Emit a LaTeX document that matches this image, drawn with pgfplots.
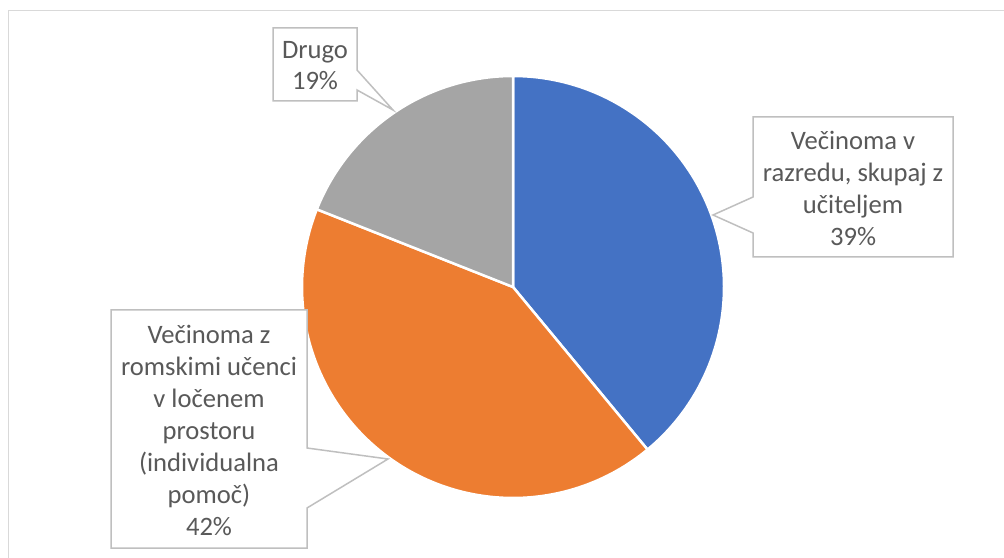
\documentclass[border=0pt]{standalone}
\usepackage{pgfplots}
\pgfplotsset{compat=1.18}
\usepackage{fontspec}
\setmainfont{Carlito}
\definecolor{pieblue}{HTML}{4472C4}
\definecolor{pieorange}{HTML}{ED7D31}
\definecolor{piegray}{HTML}{A5A5A5}
\definecolor{txt}{HTML}{595959}
\definecolor{boxline}{HTML}{BFBFBF}
\definecolor{frame}{HTML}{D9D9D9}
% slice shares (percent)
\def\pA{39}% Večinoma v razredu
\def\pB{42}% Večinoma z romskimi učenci
\def\pC{19}% Drugo
\pgfmathsetmacro{\aA}{90}
\pgfmathsetmacro{\aB}{90-3.6*\pA}
\pgfmathsetmacro{\aC}{90-3.6*(\pA+\pB)}
\pgfmathsetmacro{\aD}{90-3.6*(\pA+\pB+\pC)}
\begin{document}
\begin{tikzpicture}
\useasboundingbox (0,0) rectangle (502pt,278.5pt);
\begin{axis}[
  at={(0,0)}, anchor=origin,
  x=0.5pt, y=0.5pt,
  xmin=-513, xmax=491, ymin=-270, ymax=287,
  hide axis, clip=false,
  anchor=south west,
]
% outer frame
\draw[frame, line width=0.75pt] (axis cs:-504.5,-275) -- (axis cs:-504.5,276.5) -- (axis cs:495,276.5);
% pie slices
\addplot[fill=pieblue, draw=white, line width=1.25pt, line join=round, data cs=polar, domain=\aA:\aB, samples=120] {211} -- (axis cs:0,0) -- cycle;
\addplot[fill=pieorange, draw=white, line width=1.25pt, line join=round, data cs=polar, domain=\aB:\aC, samples=120] {211} -- (axis cs:0,0) -- cycle;
\addplot[fill=piegray, draw=white, line width=1.25pt, line join=round, data cs=polar, domain=\aC:\aD, samples=80] {211} -- (axis cs:0,0) -- cycle;
% callouts
\draw[boxline, fill=white, line width=0.75pt]
  (axis cs:-240,259) -- (axis cs:-156,259) -- (axis cs:-156,217) -- (axis cs:-120,177)
  -- (axis cs:-156,197) -- (axis cs:-156,186) -- (axis cs:-240,186) -- cycle;
\node[text=txt, align=center, font=\fontsize{13.3}{15.5}\selectfont] at (axis cs:-198,221) {Drugo\\19\%};
\draw[boxline, fill=white, line width=0.75pt]
  (axis cs:240,170) -- (axis cs:440,170) -- (axis cs:440,30) -- (axis cs:240,30)
  -- (axis cs:240,54) -- (axis cs:200,72) -- (axis cs:240,90) -- cycle;
\node[text=txt, align=center, font=\fontsize{13.3}{16}\selectfont] at (axis cs:340,99) {Večinoma v\\razredu, skupaj z\\učiteljem\\39\%};
\draw[boxline, fill=white, line width=0.75pt]
  (axis cs:-402,-23) -- (axis cs:-206,-23) -- (axis cs:-206,-161) -- (axis cs:-125,-172)
  -- (axis cs:-206,-221) -- (axis cs:-206,-261) -- (axis cs:-402,-261) -- cycle;
\node[text=txt, align=center, font=\fontsize{13.3}{16}\selectfont] at (axis cs:-304,-143) {Večinoma z\\romskimi učenci\\v ločenem\\prostoru\\(individualna\\pomoč)\\42\%};
\end{axis}
\end{tikzpicture}
\end{document}
